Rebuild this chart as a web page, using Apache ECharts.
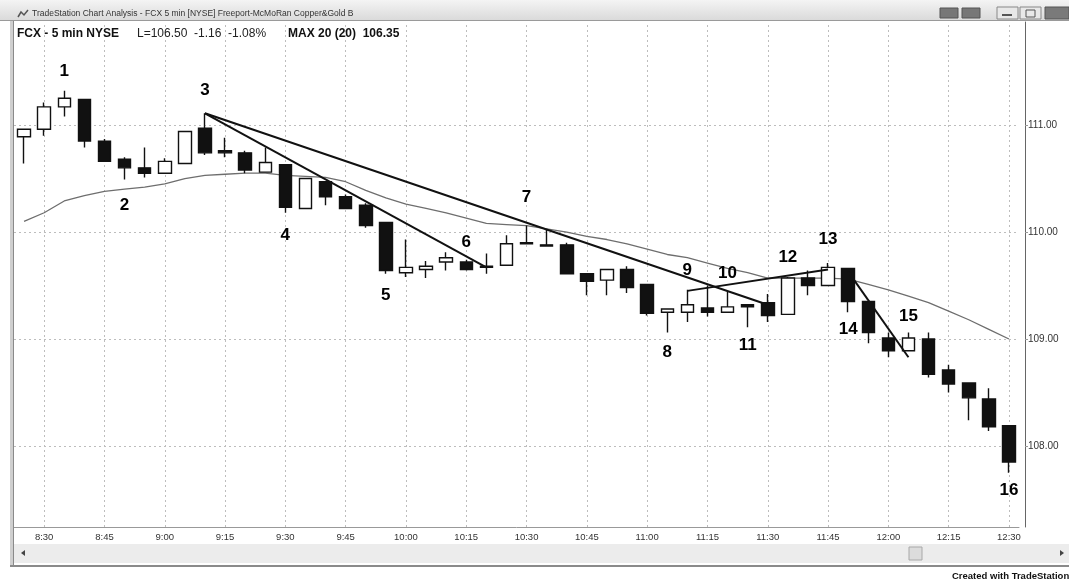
<!DOCTYPE html>
<html><head><meta charset="utf-8">
<script src="https://cdn.jsdelivr.net/npm/echarts@6/dist/echarts.min.js"></script>
<style>html,body{margin:0;padding:0;background:#fff;}#c{width:1069px;height:583px;}</style>
</head><body><div id="c"></div>
<script>
// ---- data ----
const times = ['8:25','8:30','8:35','8:40','8:45','8:50','8:55','9:00','9:05','9:10','9:15','9:20','9:25','9:30','9:35','9:40','9:45','9:50','9:55','10:00','10:05','10:10','10:15','10:20','10:25','10:30','10:35','10:40','10:45','10:50','10:55','11:00','11:05','11:10','11:15','11:20','11:25','11:30','11:35','11:40','11:45','11:50','11:55','12:00','12:05','12:10','12:15','12:20','12:25','12:30'];
const opens  = [110.89,110.96,111.17,111.24,110.85,110.68,110.60,110.55,110.64,110.97,110.76,110.74,110.56,110.63,110.22,110.47,110.33,110.25,110.09,109.62,109.65,109.72,109.72,109.68,109.69,109.90,109.88,109.88,109.61,109.55,109.65,109.51,109.25,109.25,109.29,109.25,109.32,109.34,109.23,109.57,109.50,109.66,109.35,109.01,108.89,109.00,108.71,108.59,108.44,108.19];
const closes = [110.96,111.17,111.25,110.85,110.66,110.60,110.55,110.66,110.94,110.74,110.74,110.58,110.65,110.23,110.50,110.33,110.22,110.06,109.64,109.67,109.68,109.76,109.65,109.67,109.89,109.89,109.87,109.61,109.54,109.65,109.48,109.24,109.28,109.32,109.25,109.30,109.30,109.22,109.57,109.50,109.67,109.35,109.06,108.89,109.01,108.67,108.58,108.45,108.18,107.85];
const lows   = [110.64,110.90,111.08,110.79,110.66,110.49,110.51,110.55,110.64,110.72,110.70,110.55,110.56,110.18,110.22,110.25,110.22,110.04,109.61,109.58,109.57,109.64,109.64,109.61,109.69,109.89,109.87,109.61,109.41,109.41,109.43,109.22,109.06,109.16,109.21,109.25,109.11,109.16,109.23,109.41,109.50,109.25,108.96,108.83,108.89,108.64,108.50,108.24,108.14,107.75];
const highs  = [110.96,111.21,111.32,111.24,110.87,110.70,110.79,110.69,110.94,111.11,110.88,110.76,110.79,110.63,110.50,110.47,110.35,110.27,110.09,109.93,109.73,109.81,109.74,109.80,109.97,110.06,110.02,109.90,109.61,109.65,109.68,109.51,109.28,109.46,109.50,109.44,109.32,109.42,109.58,109.64,109.71,109.66,109.35,109.06,109.06,109.06,108.76,108.59,108.54,108.19];
const ma20   = [110.10,110.18,110.29,110.34,110.38,110.40,110.42,110.45,110.50,110.53,110.54,110.55,110.55,110.53,110.52,110.51,110.47,110.39,110.32,110.26,110.22,110.18,110.13,110.08,110.07,110.06,110.03,110.00,109.96,109.93,109.89,109.84,109.79,109.76,109.71,109.66,109.62,109.57,109.57,109.57,109.57,109.56,109.51,109.46,109.40,109.34,109.26,109.18,109.09,109.00];
const trendSteep = [[9,111.11],[23,109.67]];
const trendLong  = [[9,111.11],[37,109.32]];
const trendUp    = [[33,109.45],[40,109.65]];
const trendDrop  = [[41,109.63],[44,108.83]];
const noteText  = ['1','2','3','4','5','6','7','8','9','10','11','12','13','14','15','16'];
const noteBar   = [2,5,9,13,18,22,25,32,33,35,36,38,40,41,44,49];
const notePrice = [111.50,110.25,111.32,109.97,109.41,109.90,110.32,108.88,109.64,109.61,108.94,109.76,109.93,109.09,109.21,107.59];
const yMin = 107.243, yMax = 111.963;

const FONT = '"Liberation Sans", Arial, sans-serif';
const isMark = (idx) => idx % 3 === 1;

const chart = echarts.init(document.getElementById('c'));
chart.setOption({
  animation: false,
  backgroundColor: '#fff',
  grid: { left: 14, right: 50, top: 22, bottom: 56, containLabel: false },
  xAxis: {
    type: 'category', data: times, boundaryGap: true,
    axisLine: { show: true, lineStyle: { color: '#999', width: 1 } },
    axisTick: { show: true, inside: true, length: 505, alignWithLabel: true, interval: isMark,
      lineStyle: { color: '#bdbdbd', type: [2, 3], width: 1 } },
    axisLabel: { interval: isMark, fontSize: 9.5, color: '#333', margin: 5, fontFamily: FONT },
    splitLine: { show: false }
  },
  yAxis: {
    type: 'value', position: 'right', offset: 6, min: yMin, max: yMax, splitNumber: 4, scale: true,
    axisLine: { show: true, lineStyle: { color: '#666', width: 1 } },
    axisTick: { show: true, length: 3, lineStyle: { color: '#999' } },
    axisLabel: { fontSize: 10, color: '#333', margin: 3, fontFamily: FONT, showMinLabel: false, showMaxLabel: false,
      formatter: v => v.toFixed(2) },
    splitLine: { show: true, showMinLine: false, showMaxLine: false, lineStyle: { color: '#bdbdbd', type: [2, 3] } }
  },
  series: [
    { type: 'line', name: 'MA20', data: ma20, symbol: 'none', z: 2,
      lineStyle: { color: '#6e6e6e', width: 1.3 } },
    { type: 'candlestick', name: 'FCX', z: 3, barWidth: 13, clip: false,
      data: times.map((t, i) => [opens[i], closes[i], lows[i], highs[i]]),
      itemStyle: { color: '#fff', color0: '#111', borderColor: '#111', borderColor0: '#111', borderWidth: 1.4 } },
    ...[trendSteep, trendLong, trendUp, trendDrop].map(d => ({
      type: 'line', data: d, symbol: 'none', z: 4, lineStyle: { color: '#111', width: 2 } })),
    { type: 'scatter', z: 5, symbolSize: 0, itemStyle: { color: '#000', opacity: 1 },
      data: noteBar.map((b, k) => ({ name: noteText[k], value: [b, notePrice[k]] })),
      label: { show: true, position: 'inside', formatter: '{b}', fontSize: 17, fontWeight: 'bold', color: '#000',
        opacity: 1, textBorderWidth: 0, fontFamily: FONT } }
  ],
  graphic: [
    { type: 'rect', shape: { x: 0, y: 0, width: 1069, height: 21 }, z: 10,
      style: { fill: { type: 'linear', x: 0, y: 0, x2: 0, y2: 1, colorStops: [{ offset: 0, color: '#f4f4f4' }, { offset: 1, color: '#d9d9d9' }] } } },
    { type: 'rect', shape: { x: 0, y: 20, width: 1069, height: 1 }, z: 10, style: { fill: '#9a9a9a' } },
    { type: 'polyline', shape: { points: [[18, 17], [21, 12], [24, 15], [28, 10]] }, z: 11, style: { stroke: '#555', lineWidth: 1.5, fill: null } },
    { type: 'text', x: 32, y: 14, z: 11, style: { text: 'TradeStation Chart Analysis - FCX 5 min [NYSE] Freeport-McMoRan Copper&Gold B', font: '8.5px ' + FONT, fill: '#333', verticalAlign: 'middle' } },
    { type: 'rect', shape: { x: 940, y: 8, width: 18, height: 10 }, z: 11, style: { fill: '#777', stroke: '#555' } },
    { type: 'rect', shape: { x: 962, y: 8, width: 18, height: 10 }, z: 11, style: { fill: '#777', stroke: '#555' } },
    { type: 'rect', shape: { x: 997, y: 7, width: 21, height: 12 }, z: 11, style: { fill: '#e8e8e8', stroke: '#888' } },
    { type: 'rect', shape: { x: 1020, y: 7, width: 21, height: 12 }, z: 11, style: { fill: '#e8e8e8', stroke: '#888' } },
    { type: 'rect', shape: { x: 1045, y: 7, width: 24, height: 12 }, z: 11, style: { fill: '#7a7a7a', stroke: '#555' } },
    { type: 'rect', shape: { x: 1002, y: 14, width: 10, height: 2 }, z: 12, style: { fill: '#555' } },
    { type: 'rect', shape: { x: 1026, y: 10, width: 9, height: 7 }, z: 12, style: { fill: null, stroke: '#555' } },
    { type: 'rect', shape: { x: 10, y: 21, width: 4, height: 546 }, z: 10, style: { fill: '#cfcfcf' } },
    { type: 'rect', shape: { x: 13, y: 21, width: 1, height: 546 }, z: 10, style: { fill: '#8a8a8a' } },
    { type: 'text', x: 17, y: 34, z: 11, style: { text: 'FCX - 5 min NYSE', font: 'bold 12px ' + FONT, fill: '#111', verticalAlign: 'middle' } },
    { type: 'text', x: 137, y: 34, z: 11, style: { text: 'L=106.50  -1.16  -1.08%', font: '12px ' + FONT, fill: '#222', verticalAlign: 'middle' } },
    { type: 'text', x: 288, y: 34, z: 11, style: { text: 'MAX 20 (20)  106.35', font: 'bold 12px ' + FONT, fill: '#111', verticalAlign: 'middle' } },
    { type: 'rect', shape: { x: 14, y: 544, width: 1055, height: 19 }, z: 10, style: { fill: '#ececec' } },
    { type: 'rect', shape: { x: 909, y: 547, width: 13, height: 13 }, z: 11, style: { fill: '#dcdcdc', stroke: '#a8a8a8' } },
    { type: 'polygon', shape: { points: [[21, 553], [25, 550], [25, 556]] }, z: 11, style: { fill: '#444' } },
    { type: 'polygon', shape: { points: [[1064, 553], [1060, 550], [1060, 556]] }, z: 11, style: { fill: '#444' } },
    { type: 'rect', shape: { x: 10, y: 565, width: 1059, height: 2 }, z: 10, style: { fill: '#8a8a8a' } },
    { type: 'text', x: 952, y: 576, z: 11, style: { text: 'Created with TradeStation', font: 'bold 9.5px ' + FONT, fill: '#111', verticalAlign: 'middle' } }
  ]
});
</script></body></html>
